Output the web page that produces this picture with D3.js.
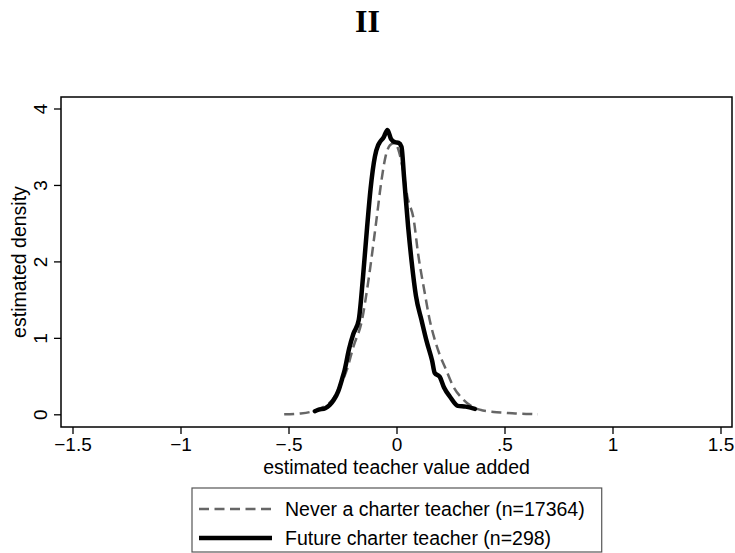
<!DOCTYPE html>
<html>
<head>
<meta charset="utf-8">
<script src="https://cdn.jsdelivr.net/npm/d3@7"></script>
<style>
  body { margin: 0; background: #fff; }
  text { font-family: "Liberation Sans", Arial, sans-serif; }
</style>
</head>
<body>
<div id="chart"></div>
<script>
// kernel density estimates
var neverX = [-0.52, -0.45, -0.40, -0.35, -0.30, -0.26, -0.23, -0.20, -0.16, -0.13, -0.093, -0.07, -0.05, -0.03, -0.01,
  0.01, 0.03, 0.05, 0.08, 0.10, 0.13, 0.154, 0.18, 0.20, 0.23, 0.26, 0.31, 0.35, 0.40, 0.45, 0.50, 0.55, 0.60, 0.655];
var neverY = [0.00, 0.01, 0.03, 0.08, 0.18, 0.38, 0.58, 0.88, 1.23, 1.75, 2.54, 3.05, 3.38, 3.52, 3.55,
  3.45, 3.20, 2.85, 2.54, 2.10, 1.60, 1.23, 0.95, 0.78, 0.58, 0.38, 0.19, 0.10, 0.05, 0.03, 0.02, 0.01, 0.005, 0.00];

var futureX = [-0.378, -0.36, -0.33, -0.31, -0.29, -0.27, -0.25, -0.24, -0.22, -0.20, -0.175, -0.155, -0.136, -0.12, -0.10,
  -0.085, -0.077, -0.06, -0.042, -0.025, -0.008, 0.01, 0.023, 0.035, 0.054, 0.07, 0.09, 0.116, 0.14, 0.165, 0.177,
  0.20, 0.22, 0.25, 0.284, 0.32, 0.363];
var futureY = [0.04, 0.06, 0.08, 0.12, 0.19, 0.30, 0.48, 0.58, 0.85, 1.05, 1.23, 1.80, 2.45, 2.95, 3.37,
  3.52, 3.56, 3.62, 3.72, 3.60, 3.56, 3.55, 3.50, 3.10, 2.45, 2.00, 1.55, 1.23, 0.95, 0.70, 0.54,
  0.49, 0.35, 0.22, 0.11, 0.10, 0.07];

var xTicks = [-1.5, -1, -0.5, 0, 0.5, 1, 1.5];
var xTickLabels = ["\u22121.5", "\u22121", "\u2212.5", "0", ".5", "1", "1.5"];
var yTicks = [0, 1, 2, 3, 4];
var seriesNames = ["Never a charter teacher (n=17364)", "Future charter teacher (n=298)"];

var width = 735, height = 553;
var frame = {left: 61, top: 97, right: 732, bottom: 427};

var svg = d3.select("#chart").append("svg")
  .attr("width", width)
  .attr("height", height);

var x = d3.scaleLinear().domain([-1.5, 1.5]).range([72.5, 720.5]);
var y = d3.scaleLinear().domain([0, 4]).range([414.3, 108.5]);

svg.append("text")
  .attr("x", width / 2)
  .attr("y", 32)
  .attr("text-anchor", "middle")
  .style("font-family", "'Liberation Serif', 'Times New Roman', serif")
  .style("font-weight", "bold")
  .style("font-size", "32px")
  .text("II");

// plot frame
svg.append("rect")
  .attr("x", frame.left)
  .attr("y", frame.top)
  .attr("width", frame.right - frame.left)
  .attr("height", frame.bottom - frame.top)
  .attr("fill", "none")
  .attr("stroke", "#000")
  .attr("stroke-width", 1.5);

var xAxis = d3.axisBottom(x)
  .tickValues(xTicks)
  .tickSize(7)
  .tickFormat(function(d, i) { return xTickLabels[i]; });

var gx = svg.append("g")
  .attr("transform", "translate(0," + frame.bottom + ")")
  .call(xAxis);
gx.select(".domain").remove();
gx.selectAll("line").attr("stroke-width", 1.3);
gx.selectAll("text")
  .attr("y", 11)
  .style("font-size", "19px")
  .style("font-family", "'Liberation Sans', Arial, sans-serif")
  .attr("fill", "#000");

var yAxis = d3.axisLeft(y).tickValues(yTicks).tickSize(7).tickFormat(d3.format("d"));
var gy = svg.append("g")
  .attr("transform", "translate(" + frame.left + ",0)")
  .call(yAxis);
gy.select(".domain").remove();
gy.selectAll("line").attr("stroke-width", 1.3);
gy.selectAll("text")
  .attr("x", null).attr("dy", null)
  .attr("transform", "translate(-14,0) rotate(-90)")
  .attr("text-anchor", "middle")
  .attr("y", 0)
  .style("font-size", "19px")
  .style("font-family", "'Liberation Sans', Arial, sans-serif")
  .attr("fill", "#000");

svg.append("text")
  .attr("x", (frame.left + frame.right) / 2)
  .attr("y", 474)
  .attr("text-anchor", "middle")
  .style("font-size", "19.5px")
  .text("estimated teacher value added");

svg.append("text")
  .attr("transform", "translate(26," + (frame.top + frame.bottom) / 2 + ") rotate(-90)")
  .attr("text-anchor", "middle")
  .style("font-size", "19.5px")
  .text("estimated density");

var line = d3.line()
  .x(function(d) { return x(d[0]); })
  .y(function(d) { return y(d[1]); })
  .curve(d3.curveMonotoneX);

svg.append("path")
  .datum(d3.zip(neverX, neverY))
  .attr("d", line)
  .attr("fill", "none")
  .attr("stroke", "#666")
  .attr("stroke-width", 2.5)
  .attr("stroke-dasharray", "10,5.5");

svg.append("path")
  .datum(d3.zip(futureX, futureY))
  .attr("d", line)
  .attr("fill", "none")
  .attr("stroke", "#000")
  .attr("stroke-width", 4.5)
  .attr("stroke-linecap", "round")
  .attr("stroke-linejoin", "round");

// legend
var legend = svg.append("g");
var lgLeft = 192, lgTop = 488, rowGap = 29;
var box = legend.append("rect")
  .attr("x", lgLeft)
  .attr("y", lgTop)
  .attr("height", 64)
  .attr("fill", "#fff")
  .attr("stroke", "#555")
  .attr("stroke-width", 1.2);

var rows = legend.selectAll(".row")
  .data(seriesNames)
  .enter().append("g")
  .attr("class", "row")
  .attr("transform", function(d, i) { return "translate(0," + (lgTop + 21 + i * rowGap) + ")"; });

rows.append("line")
  .attr("x1", lgLeft + 7)
  .attr("x2", lgLeft + 80)
  .attr("stroke", function(d, i) { return i == 0 ? "#666" : "#000"; })
  .attr("stroke-width", function(d, i) { return i == 0 ? 2.5 : 4.5; })
  .attr("stroke-dasharray", function(d, i) { return i == 0 ? "10,5.5" : null; });

rows.append("text")
  .attr("x", lgLeft + 93)
  .attr("y", 7)
  .style("font-size", "19.5px")
  .text(function(d) { return d; });

var maxLen = 0;
rows.selectAll("text").each(function() { maxLen = Math.max(maxLen, this.getComputedTextLength()); });
box.attr("width", 93 + maxLen + 17);
</script>
</body>
</html>
